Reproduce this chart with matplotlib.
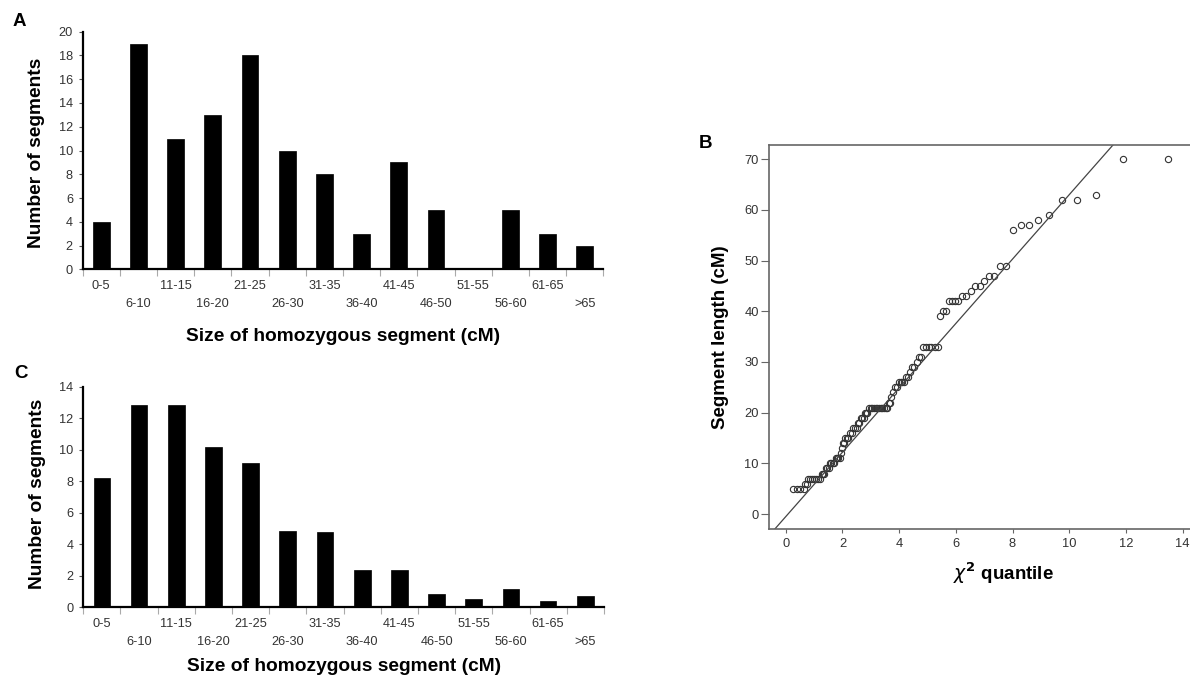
import numpy as np
import matplotlib
matplotlib.use("Agg")
import matplotlib.pyplot as plt

plt.rcParams['font.family'] = ['Liberation Sans', 'DejaVu Sans']

# histogram categories (cM)
bins = ['0-5', '6-10', '11-15', '16-20', '21-25', '26-30', '31-35',
        '36-40', '41-45', '46-50', '51-55', '56-60', '61-65', '>65']
counts_a = [4, 19, 11, 13, 18, 10, 8, 3, 9, 5, 0, 5, 3, 2]
counts_c = [8.2, 12.85, 12.85, 10.15, 9.15, 4.85, 4.75, 2.35, 2.35,
            0.82, 0.53, 1.14, 0.38, 0.72]

# QQ plot (panel B): chi2 quantile vs segment length
chi2_q = [0.25, 0.38, 0.51, 0.63,
          0.68, 0.74,
          0.80, 0.87, 0.94, 1.01, 1.08, 1.15, 1.22,
          1.27, 1.32, 1.36,
          1.41, 1.46, 1.51,
          1.56, 1.61, 1.66, 1.71,
          1.76, 1.81, 1.86, 1.91,
          1.96, 1.99, 2.02, 2.05,
          2.09, 2.15, 2.21,
          2.27, 2.33, 2.38, 2.44, 2.50,
          2.55, 2.60, 2.65, 2.70, 2.75,
          2.79, 2.83, 2.88,
          2.93, 2.99, 3.05, 3.11, 3.17, 3.23, 3.29, 3.35, 3.41, 3.47, 3.53, 3.58,
          3.63, 3.68, 3.73, 3.80, 3.87, 3.93,
          3.99, 4.05, 4.11, 4.17, 4.24, 4.30, 4.37, 4.45, 4.52, 4.62,
          4.70, 4.76, 4.84, 4.94, 5.04, 5.14, 5.25, 5.36,
          5.45, 5.55, 5.64,
          5.75, 5.86, 5.97, 6.08, 6.22, 6.36, 6.52, 6.68, 6.84,
          7.00, 7.17, 7.35, 7.57, 7.78,
          8.03, 8.30, 8.58, 8.91, 9.29,
          9.73, 10.26, 10.94,
          11.89, 13.50]
seg_len = [5, 5, 5, 5,
           6, 6,
           7, 7, 7, 7, 7, 7, 7,
           8, 8, 8,
           9, 9, 9,
           10, 10, 10, 10,
           11, 11, 11, 11,
           12, 13, 14, 14,
           15, 15, 15,
           16, 16, 17, 17, 17,
           18, 18, 19, 19, 19,
           20, 20, 20,
           21, 21, 21, 21, 21, 21, 21, 21, 21, 21, 21, 21,
           22, 22, 23, 24, 25, 25,
           26, 26, 26, 26, 27, 27, 28, 29, 29, 30,
           31, 31, 33, 33, 33, 33, 33, 33,
           39, 40, 40,
           42, 42, 42, 42, 43, 43, 44, 45, 45,
           46, 47, 47, 49, 49,
           56, 57, 57, 58, 59,
           62, 62, 63,
           70, 70]
fit_intercept = -0.5
fit_slope = 6.35

W, H = 1190, 677
fig = plt.figure(figsize=(W / 100, H / 100), dpi=100)


def px_axes(left, top, right, bottom):
    return fig.add_axes([left / W, 1 - bottom / H, (right - left) / W, (bottom - top) / H])


def histo(ax, counts, ymax, ylab_y, xlab_y):
    x = np.arange(len(bins))
    ax.bar(x, counts, width=0.45, color='black', edgecolor='black', linewidth=0.5)
    ax.set_xlim(-0.5, len(bins) - 0.5)
    ax.set_ylim(0, ymax)
    ax.spines['top'].set_visible(False)
    ax.spines['right'].set_visible(False)
    ax.spines['left'].set_linewidth(1.6)
    ax.spines['bottom'].set_linewidth(1.6)
    ax.set_yticks(range(0, ymax + 1, 2))
    ax.tick_params(axis='y', direction='out', length=3, width=0.8, pad=4,
                   labelsize=9.2, labelcolor='#333333', color='#555555')
    ax.set_xticks(np.arange(-0.5, len(bins), 1))
    ax.set_xticklabels([])
    ax.tick_params(axis='x', direction='out', length=5, width=0.8, color='#aaaaaa')
    for i, lab in enumerate(bins):
        off = -12.2 if i % 2 == 0 else -25.2
        ax.annotate(lab, xy=(i, 0), xycoords=('data', 'axes fraction'),
                    xytext=(0, off), textcoords='offset points',
                    ha='center', va='center', fontsize=9.2, color='#333333')
    ax.set_ylabel('Number of segments', fontsize=13.8, fontweight='bold', va='center')
    ax.yaxis.set_label_coords(-0.088, ylab_y)
    ax.set_xlabel('Size of homozygous segment (cM)', fontsize=13.8,
                  fontweight='bold', va='center')
    ax.xaxis.set_label_coords(0.5, xlab_y)


ax_a = px_axes(82.7, 31.7, 603.3, 269.3)
histo(ax_a, counts_a, 20, 0.49, -0.281)

ax_c = px_axes(83.3, 386.7, 603.9, 607.3)
histo(ax_c, counts_c, 14, 0.513, -0.269)

# panel B
ax_b = px_axes(769.3, 145, 1190, 529.3)
ax_b.plot(chi2_q, seg_len, 'o', mfc='none', mec='#333333', ms=4.5, mew=0.8)
ax_b.axline((0, fit_intercept), slope=fit_slope, color='#444444', lw=0.9)
ax_b.set_xlim(-0.58, 14.26)
ax_b.set_ylim(-3, 72.8)
ax_b.spines['right'].set_visible(False)
for s in ['left', 'top', 'bottom']:
    ax_b.spines[s].set_color('#666666')
    ax_b.spines[s].set_linewidth(1.2)
ax_b.set_xticks(range(0, 15, 2))
ax_b.set_yticks(range(0, 71, 10))
ax_b.tick_params(axis='y', direction='out', length=6, width=0.8, pad=1.5,
                 labelsize=9.3, labelcolor='#333333', color='#666666')
ax_b.tick_params(axis='x', direction='out', length=3, width=0.8, pad=3,
                 labelsize=9.3, labelcolor='#333333', color='#666666')
ax_b.set_ylabel('Segment length (cM)', fontsize=13.5, fontweight='bold', va='center')
ax_b.yaxis.set_label_coords(-0.116, 0.499)
ax_b.set_xlabel(r'$\chi^{\mathbf{2}}$ quantile', fontsize=13.5, fontweight='bold', va='center')
ax_b.xaxis.set_label_coords(0.5555, -0.114)

# panel letters
fig.text(19 / W, 1 - 21.7 / H, 'A', fontsize=13.5, fontweight='bold', ha='center', va='center')
fig.text(21 / W, 1 - 373 / H, 'C', fontsize=13.5, fontweight='bold', ha='center', va='center')
fig.text(706 / W, 1 - 144 / H, 'B', fontsize=13.5, fontweight='bold', ha='center', va='center')

fig.savefig('out.png', dpi=100)
